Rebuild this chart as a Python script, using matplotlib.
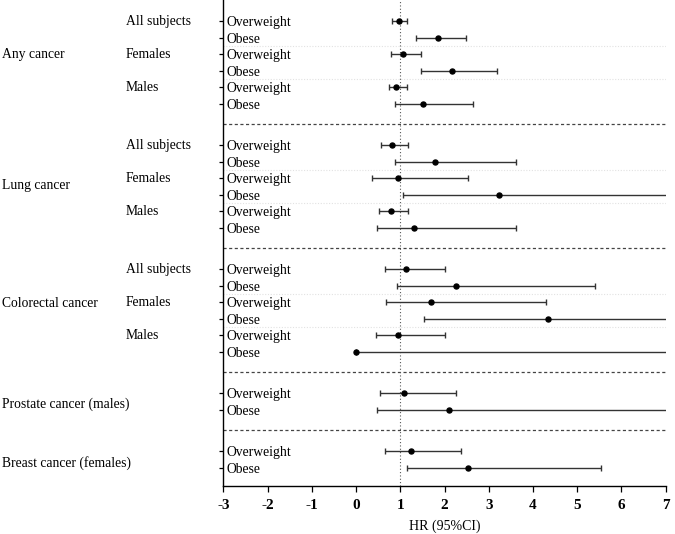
import matplotlib
matplotlib.use("Agg")
import matplotlib.pyplot as plt
import matplotlib.transforms as mtransforms

plt.rcParams['font.family'] = ['Liberation Serif', 'DejaVu Serif']

# ---------------- data ----------------
groups = ["Any cancer", "Lung cancer", "Colorectal cancer",
          "Prostate cancer (males)", "Breast cancer (females)"]
subgroups = ["All subjects", "Females", "Males"]
row_labels = ["Overweight", "Obese"]

# HR point estimates and 95% CI (per group, rows in order Overweight/Obese for each subgroup)
hr_any = [0.97, 1.85, 1.07, 2.16, 0.91, 1.51]
lo_any = [0.81, 1.35, 0.79, 1.48, 0.74, 0.87]
hi_any = [1.16, 2.49, 1.47, 3.19, 1.15, 2.65]

hr_lung = [0.81, 1.79, 0.96, 3.23, 0.78, 1.30]
lo_lung = [0.57, 0.89, 0.37, 1.06, 0.53, 0.47]
hi_lung = [1.18, 3.62, 2.52, 9.80, 1.18, 3.61]

hr_crc = [1.12, 2.25, 1.69, 4.33, 0.96, 0.00]
lo_crc = [0.65, 0.93, 0.67, 1.53, 0.46, 0.00]
hi_crc = [2.00, 5.40, 4.30, 12.3, 2.00, 20.0]

hr_prost = [1.09, 2.11]
lo_prost = [0.54, 0.47]
hi_prost = [2.27, 9.40]

hr_breast = [1.24, 2.52]
lo_breast = [0.66, 1.16]
hi_breast = [2.37, 5.54]

xticks = [-3, -2, -1, 0, 1, 2, 3, 4, 5, 6, 7]
xlabel = "HR (95%CI)"

# ---------------- layout ----------------
hr_groups = [hr_any, hr_lung, hr_crc, hr_prost, hr_breast]
lo_groups = [lo_any, lo_lung, lo_crc, lo_prost, lo_breast]
hi_groups = [hi_any, hi_lung, hi_crc, hi_prost, hi_breast]
group_start = [0, 7.5, 15, 22.5, 26]
group_label_off = [2.0, 2.45, 2.1, 0.65, 0.7]

fig = plt.figure(figsize=(6.75, 5.34), dpi=100)
ax = fig.add_axes([223.3 / 675, 1 - 486 / 534, (665.7 - 223.3) / 675, 486 / 534])

ytick_pos, ytick_lab = [], []
for gi, (hr, lo, hi) in enumerate(zip(hr_groups, lo_groups, hi_groups)):
    s = group_start[gi]
    ys = [s + i for i in range(len(hr))]
    xerr = [[h - l for h, l in zip(hr, lo)], [u - h for h, u in zip(hr, hi)]]
    ax.errorbar(hr, ys, xerr=xerr, fmt='o', color='black', ecolor='#333333',
                elinewidth=1.0, capsize=2.2, capthick=1.0, markersize=3.6,
                clip_on=True, zorder=3)
    for i, y in enumerate(ys):
        ytick_pos.append(y)
        ytick_lab.append(row_labels[i % 2])
    # light dotted lines between subgroups
    if len(hr) == 6:
        for k in (1.5, 3.5):
            ax.axhline(s + k, color='#e2e2e2', lw=0.8, ls=(0, (1, 1.5)), zorder=1)
    # dashed separator after each group except last
    if gi < len(hr_groups) - 1:
        ax.axhline(ys[-1] + 1.2, color='#444444', lw=0.9, ls=(0, (2.5, 2)), zorder=1)

ax.axvline(1, color='#555555', lw=0.8, ls=(0, (1, 2)), zorder=1)

ax.set_xlim(-3, 7)
ax.set_ylim(28.1, -1.27)
ax.set_xticks(xticks)
ax.set_xticklabels([str(t) for t in xticks], fontsize=11, fontweight='bold')
ax.set_yticks(ytick_pos)
ax.set_yticklabels(ytick_lab, fontsize=9.8, ha='left')
ax.tick_params(axis='y', direction='out', length=3, width=0.9, pad=-5.2)
ax.tick_params(axis='x', direction='out', length=4, width=0.9, pad=5.5)
for sp in ('top', 'right'):
    ax.spines[sp].set_visible(False)
for sp in ('left', 'bottom'):
    ax.spines[sp].set_linewidth(1.0)
ax.set_xlabel(xlabel, fontsize=10, labelpad=5)

# left-side labels
trans = mtransforms.blended_transform_factory(fig.transFigure, ax.transData)
for gi, g in enumerate(groups):
    ax.text(2 / 675, group_start[gi] + group_label_off[gi], g, transform=trans,
            fontsize=9.8, ha='left', va='center')
    if gi < 3:
        for si, sg in enumerate(subgroups):
            ax.text(126 / 675, group_start[gi] + 2 * si, sg, transform=trans,
                    fontsize=9.8, ha='left', va='center')

fig.savefig("out.png", dpi=100)
